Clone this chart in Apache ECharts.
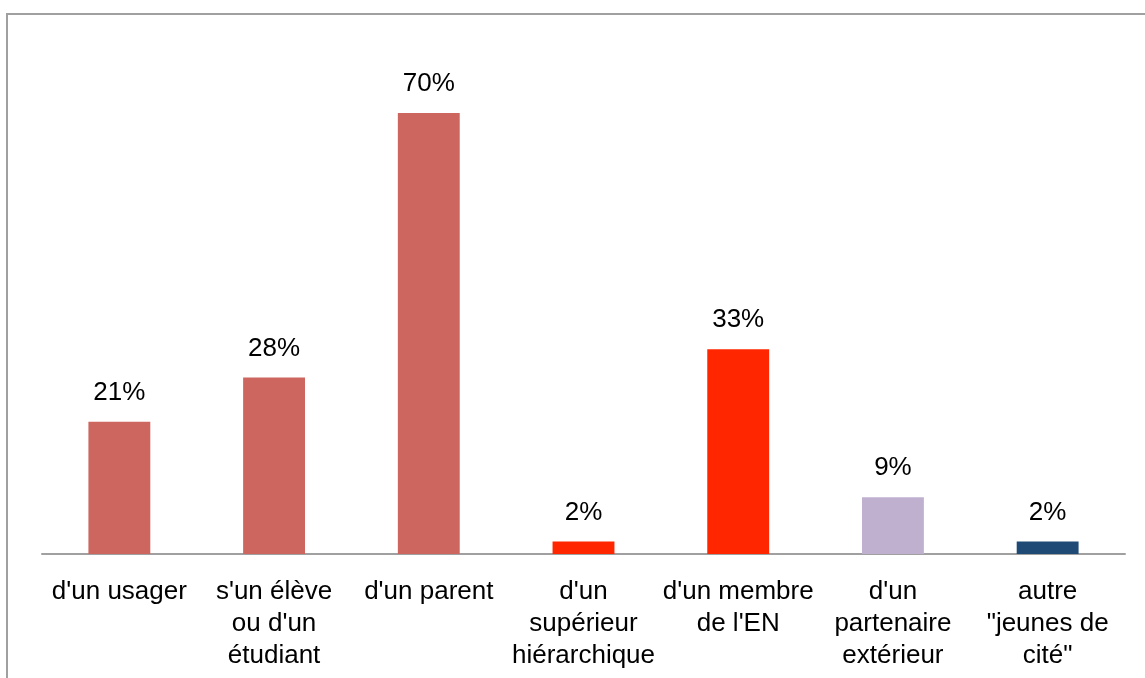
<!DOCTYPE html>
<html>
<head>
<meta charset="utf-8">
<script src="https://cdn.jsdelivr.net/npm/echarts@6/dist/echarts.min.js"></script>
<style>
html,body{margin:0;padding:0;background:#fff;}
#chart{width:1145px;height:678px;}
</style>
</head>
<body>
<div id="chart"></div>
<script>
const categories = ["d'un usager", "s'un élève\nou d'un\nétudiant", "d'un parent", "d'un\nsupérieur\nhiérarchique", "d'un membre\nde l'EN", "d'un\npartenaire\nextérieur", "autre\n\"jeunes de\ncité\""];
const values = [21, 28, 70, 2, 32.5, 9, 2];
const labels = ["21%", "28%", "70%", "2%", "33%", "9%", "2%"];
const colors = ["#CD665F", "#CD665F", "#CD665F", "#FF2600", "#FF2600", "#C0B0D0", "#1F4A75"];

const chart = echarts.init(document.getElementById('chart'));
const font = "'Liberation Sans', Arial, sans-serif";
chart.setOption({
  animation: false,
  graphic: [{
    type: 'rect',
    shape: {x: 7, y: 14, width: 1300, height: 800},
    style: {fill: 'none', stroke: '#a0a0a0', lineWidth: 2},
    silent: true
  }],
  grid: {left: 42, right: 20, top: 50, bottom: 124},
  xAxis: {
    type: 'category',
    data: categories,
    axisLine: {lineStyle: {color: '#a0a0a0', width: 2}},
    axisTick: {show: false},
    axisLabel: {
      interval: 0,
      color: '#000',
      fontFamily: font,
      fontSize: 26,
      lineHeight: 32,
      margin: 22
    }
  },
  yAxis: {
    type: 'value',
    min: 0,
    max: 80,
    show: false,
    splitLine: {show: false}
  },
  series: [{
    type: 'bar',
    barWidth: '40%',
    data: values.map((v, i) => ({value: v, itemStyle: {color: colors[i]}})),
    label: {
      show: true,
      position: 'top',
      distance: 16,
      color: '#000',
      fontFamily: font,
      fontSize: 26,
      formatter: p => labels[p.dataIndex]
    }
  }]
});
</script>
</body>
</html>
